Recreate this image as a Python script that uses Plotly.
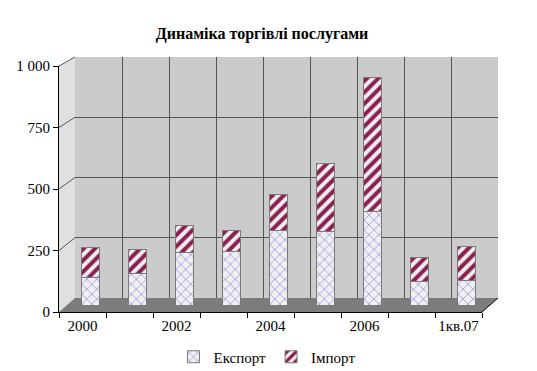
import plotly.graph_objects as go

categories = ["2000", "2001", "2002", "2003", "2004", "2005", "2006", "1кв.06", "1кв.07"]
export_vals = [115, 130, 215, 220, 305, 300, 385, 95, 100]
import_vals = [120, 100, 110, 85, 150, 280, 550, 100, 140]
y_ticks = [0, 250, 500, 750, 1000]
y_ticktext = ["0", "250", "500", "750", "1 000"]
label_every = 2

W, H = 537, 371
def px(x):
    return x / W
def py(y):
    return 1 - y / H

FRONT = dict(x0=59, x1=482, y0=312, y1=66)
BACK = dict(x0=75, x1=498, y0=298, y1=57)
MID = dict(x0=67, x1=490, y0=305, y1=61.5)

n = len(categories)
idx = list(range(n))
YMAX = 1000
FONT = "Times New Roman, Liberation Serif, DejaVu Serif, serif"

fig = go.Figure()

fig.add_trace(go.Scatter(x=idx, y=export_vals, xaxis="x", yaxis="y", mode="markers",
                         marker=dict(opacity=0), showlegend=False, hoverinfo="skip"))
fig.add_trace(go.Scatter(x=idx, y=export_vals, xaxis="x2", yaxis="y2", mode="markers",
                         marker=dict(opacity=0), showlegend=False, hoverinfo="skip"))

fig.add_trace(go.Bar(
    x=categories, y=export_vals, name="Експорт", xaxis="x3", yaxis="y3",
    width=0.38,
    marker=dict(color="#f0f0f0", line=dict(color="#7a7a7a", width=1),
                pattern=dict(shape="x", fgcolor="#6b6be6", bgcolor="#f0f0f0", fgopacity=1,
                             size=7, solidity=0.15)),
))
fig.add_trace(go.Bar(
    x=categories, y=import_vals, name="Імпорт", xaxis="x3", yaxis="y3",
    width=0.38,
    marker=dict(color="#ececec", line=dict(color="#7a7a7a", width=1),
                pattern=dict(shape="/", fgcolor="#8a1f52", bgcolor="#eeeeee", fgopacity=1,
                             size=8, solidity=0.5)),
))

shapes = []
shapes.append(dict(type="rect", xref="paper", yref="paper", layer="below",
                   x0=px(BACK["x0"]), x1=px(BACK["x1"]), y0=py(BACK["y0"]), y1=py(BACK["y1"]),
                   fillcolor="#cbcbcb", line=dict(width=0)))
def path(pts):
    return "M " + " L ".join(f"{px(a)},{py(b)}" for a, b in pts) + " Z"
shapes.append(dict(type="path", xref="paper", yref="paper", layer="below",
                   path=path([(FRONT["x0"], FRONT["y0"]), (FRONT["x0"], FRONT["y1"]),
                              (BACK["x0"], BACK["y1"]), (BACK["x0"], BACK["y0"])]),
                   fillcolor="#e0e0e0", line=dict(width=0)))
shapes.append(dict(type="path", xref="paper", yref="paper", layer="below",
                   path=path([(FRONT["x0"], FRONT["y0"]), (FRONT["x1"], FRONT["y0"]),
                              (BACK["x1"], BACK["y0"]), (BACK["x0"], BACK["y0"])]),
                   fillcolor="#7c7c7c", line=dict(width=0)))
for v in y_ticks[1:]:
    yf = FRONT["y0"] + (FRONT["y1"] - FRONT["y0"]) * v / YMAX
    yb = BACK["y0"] + (BACK["y1"] - BACK["y0"]) * v / YMAX
    shapes.append(dict(type="line", xref="paper", yref="paper", layer="below",
                       x0=px(FRONT["x0"]), y0=py(yf), x1=px(BACK["x0"]), y1=py(yb),
                       line=dict(color="#555555", width=1)))
shapes.append(dict(type="line", xref="paper", yref="paper", layer="above",
                   x0=px(FRONT["x1"]), y0=py(FRONT["y0"]), x1=px(BACK["x1"]), y1=py(BACK["y0"]),
                   line=dict(color="#000000", width=1)))

rng = [-0.5, n - 0.5]
fig.update_layout(
    width=W, height=H,
    margin=dict(l=0, r=0, t=0, b=0, autoexpand=False),
    paper_bgcolor="white", plot_bgcolor="rgba(0,0,0,0)",
    barmode="stack",
    showlegend=True,
    shapes=shapes,
    title=dict(text="<b>Динаміка торгівлі послугами</b>", x=px(262), y=py(33),
               xanchor="center", yanchor="middle", automargin=False,
               font=dict(family=FONT, size=16, color="black")),
    legend=dict(orientation="h", x=px(267), y=py(357), xanchor="center", yanchor="middle",
                font=dict(family=FONT, size=15, color="black"), traceorder="normal",
                itemwidth=30, bgcolor="rgba(0,0,0,0)"),
    xaxis=dict(domain=[px(FRONT["x0"]), px(FRONT["x1"])], range=rng, anchor="y", automargin=False,
               tickmode="array", tickvals=idx[::label_every], ticktext=categories[::label_every],
               ticks="", showgrid=False, zeroline=False,
               showline=True, linecolor="black", linewidth=1,
               minor=dict(tickmode="array", tickvals=[i - 0.5 for i in range(n + 1)],
                          ticks="outside", ticklen=5, tickcolor="black", showgrid=False),
               tickfont=dict(family=FONT, size=15, color="black"), fixedrange=True),
    yaxis=dict(domain=[py(FRONT["y0"]), py(FRONT["y1"])], range=[0, YMAX], anchor="x", automargin=False,
               tickmode="array", tickvals=y_ticks, ticktext=y_ticktext,
               ticks="outside", ticklen=5, tickcolor="black",
               showgrid=False, zeroline=False, showline=True, linecolor="black", linewidth=1,
               tickfont=dict(family=FONT, size=15, color="black"), fixedrange=True),
    xaxis2=dict(domain=[px(BACK["x0"]), px(BACK["x1"])], range=rng, anchor="y2", automargin=False,
                tickmode="array", tickvals=[i - 0.5 for i in range(n + 1)],
                showticklabels=False, ticks="", showgrid=True, gridcolor="#555555", gridwidth=1,
                zeroline=False, showline=False),
    yaxis2=dict(domain=[py(BACK["y0"]), py(BACK["y1"])], range=[0, YMAX], anchor="x2", automargin=False,
                tickmode="array", tickvals=y_ticks,
                showticklabels=False, ticks="", showgrid=True, gridcolor="#555555", gridwidth=1,
                zeroline=False, showline=False),
    xaxis3=dict(domain=[px(MID["x0"]), px(MID["x1"])], range=rng, anchor="y3", automargin=False,
                type="category", categoryorder="array", categoryarray=categories,
                visible=False),
    yaxis3=dict(domain=[py(MID["y0"]), py(MID["y1"])], range=[0, YMAX], anchor="x3", automargin=False,
                visible=False),
)

fig.write_html("out.html", config={"displayModeBar": False},
               post_script="document.body.style.margin='0';document.body.style.padding='0';")
